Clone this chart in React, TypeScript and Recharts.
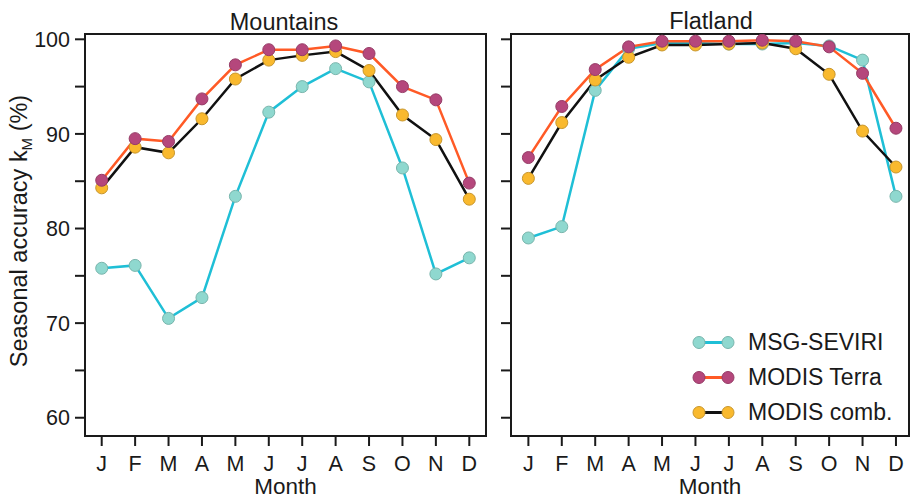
import React from 'react';
import { LineChart, Line, XAxis, YAxis, ReferenceArea, Legend } from 'recharts';

const months = ['J', 'F', 'M', 'A', 'M', 'J', 'J', 'A', 'S', 'O', 'N', 'D'];
const mountainsSeviri = [75.8, 76.1, 70.5, 72.7, 83.4, 92.3, 95.0, 96.9, 95.5, 86.4, 75.2, 76.9];
const mountainsTerra = [85.1, 89.5, 89.2, 93.7, 97.3, 98.9, 98.9, 99.3, 98.5, 95.0, 93.6, 84.8];
const mountainsComb = [84.3, 88.6, 88.0, 91.6, 95.8, 97.8, 98.3, 98.7, 96.7, 92.0, 89.4, 83.1];
const flatlandSeviri = [79.0, 80.2, 94.6, 99.0, 99.6, 99.6, 99.5, 99.5, 99.6, 99.3, 97.8, 83.4];
const flatlandTerra = [87.5, 92.9, 96.8, 99.2, 99.8, 99.8, 99.8, 99.9, 99.8, 99.2, 96.4, 90.6];
const flatlandComb = [85.3, 91.2, 95.7, 98.1, 99.4, 99.4, 99.5, 99.6, 99.0, 96.3, 90.3, 86.5];
const yTicks = [60, 65, 70, 75, 80, 85, 90, 95, 100];
const panelTitles = ['Mountains', 'Flatland'];
const seriesNames = ['MSG-SEVIRI', 'MODIS Terra', 'MODIS comb.'];

const FONT = '"Liberation Sans", Arial, Helvetica, sans-serif';
const INK = '#1a1a1a';
const Y_DOMAIN: [number, number] = [58.07, 100.56];

const seriesStyle: Record<string, { line: string; fill: string; stroke: string }> = {
  seviri: { line: '#1fbfd6', fill: '#8fd8cf', stroke: '#78b5ac' },
  terra: { line: '#ff5a26', fill: '#b5477c', stroke: '#963c67' },
  comb: { line: '#111111', fill: '#f9b92e', stroke: '#c8962c' },
};
const seriesKeys = ['seviri', 'terra', 'comb'];
const drawOrder = ['seviri', 'comb', 'terra'];

const buildRows = (s: number[], t: number[], c: number[]) =>
  months.map((m, i) => ({ month: i + 1, label: m, seviri: s[i], terra: t[i], comb: c[i] }));

const mountainsData = buildRows(mountainsSeviri, mountainsTerra, mountainsComb);
const flatlandData = buildRows(flatlandSeviri, flatlandTerra, flatlandComb);
const monthTicks = months.map((_, i) => i + 1);

const renderLegend = () => (
  <div style={{ fontFamily: FONT, fontSize: 23, color: INK }}>
    {seriesKeys.map((k, i) => {
      const st = seriesStyle[k];
      return (
        <div key={k} style={{ display: 'flex', alignItems: 'center', height: 35 }}>
          <svg width={58} height={35} style={{ flex: 'none' }}>
            <line x1={9} x2={38} y1={17.5} y2={17.5} stroke={st.line} strokeWidth={3} />
            <circle cx={9} cy={17.5} r={6} fill={st.fill} stroke={st.stroke} strokeWidth={1} />
            <circle cx={38} cy={17.5} r={6} fill={st.fill} stroke={st.stroke} strokeWidth={1} />
          </svg>
          <span style={{ whiteSpace: 'nowrap', lineHeight: '35px' }}>{seriesNames[i]}</span>
        </div>
      );
    })}
  </div>
);

type PanelProps = {
  data: any[];
  width: number;
  xDomain: [number, number];
  yAxisWidth: number;
  marginRight: number;
  showYLabels: boolean;
  legend?: boolean;
};

function Panel({ data, width, xDomain, yAxisWidth, marginRight, showYLabels, legend }: PanelProps) {
  return (
    <LineChart width={width} height={500} data={data} margin={{ top: 34, right: marginRight, bottom: 0, left: 0 }}>
      <ReferenceArea
        x1={xDomain[0]}
        x2={xDomain[1]}
        y1={Y_DOMAIN[0]}
        y2={Y_DOMAIN[1]}
        fill="none"
        stroke={INK}
        strokeWidth={2}
        ifOverflow="visible"
      />
      <XAxis
        dataKey="month"
        type="number"
        domain={xDomain}
        ticks={monthTicks}
        allowDataOverflow
        tickFormatter={(v: number) => months[v - 1] ?? ''}
        axisLine={false}
        tickLine={{ stroke: INK, strokeWidth: 2 }}
        tickSize={10}
        tickMargin={10}
        height={64}
        interval={0}
        tick={{ fill: INK, fontSize: 21.5, fontFamily: FONT }}
        label={{ value: 'Month', position: 'insideBottom', offset: 6, fill: INK, fontSize: 22.5, fontFamily: FONT }}
      />
      <YAxis
        type="number"
        domain={Y_DOMAIN}
        ticks={yTicks}
        allowDataOverflow
        width={yAxisWidth}
        axisLine={false}
        tickLine={{ stroke: INK, strokeWidth: 2 }}
        tickSize={10}
        tickMargin={5}
        interval={0}
        tickFormatter={(v: number) => (showYLabels && v % 10 === 0 ? String(v) : '')}
        tick={{ fill: INK, fontSize: 21.5, fontFamily: FONT }}
      />
      {drawOrder.map((k) => {
        const st = seriesStyle[k];
        return (
          <Line
            key={k}
            dataKey={k}
            name={seriesNames[seriesKeys.indexOf(k)]}
            type="linear"
            stroke={st.line}
            strokeWidth={2.5}
            dot={{ r: 6, fill: st.fill, stroke: st.stroke, strokeWidth: 1, fillOpacity: 1 }}
            activeDot={false}
            isAnimationActive={false}
          />
        );
      })}
      {legend ? (
        <Legend
          layout="vertical"
          align="center"
          verticalAlign="middle"
          content={renderLegend}
          wrapperStyle={{ left: 200, top: 325, width: 222, height: 105 }}
        />
      ) : null}
    </LineChart>
  );
}

export default function App() {
  return (
    <div style={{ position: 'absolute', left: 0, top: 0, width: 912, height: 500, background: '#fff', fontFamily: FONT, overflow: 'hidden' }}>
      <div style={{ position: 'absolute', left: 0, top: 0 }}>
        <Panel data={mountainsData} width={500} xDomain={[0.5, 12.5]} yAxisWidth={85} marginRight={14} showYLabels />
      </div>
      <div style={{ position: 'absolute', left: 490, top: 0 }}>
        <Panel data={flatlandData} width={422} xDomain={[0.48, 12.39]} yAxisWidth={21} marginRight={3} showYLabels={false} legend />
      </div>
      <svg width={912} height={500} style={{ position: 'absolute', left: 0, top: 0, pointerEvents: 'none' }}>
        <text x={284} y={29.5} textAnchor="middle" fontSize={23.5} fill={INK} fontFamily={FONT}>{panelTitles[0]}</text>
        <text x={711} y={29} textAnchor="middle" fontSize={23.5} fill={INK} fontFamily={FONT}>{panelTitles[1]}</text>
        <text transform="translate(27,231) rotate(-90)" textAnchor="middle" fontSize={23.5} fill={INK} fontFamily={FONT}>
          Seasonal accuracy k<tspan fontSize={15} dy={5}>M</tspan><tspan dy={-5}> (%)</tspan>
        </text>
      </svg>
    </div>
  );
}
